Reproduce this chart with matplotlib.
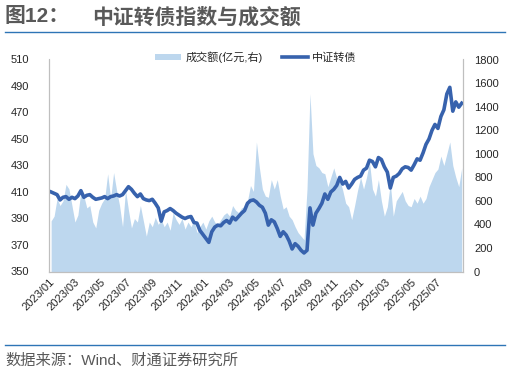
import numpy as np
import pandas as pd
import matplotlib
matplotlib.use('Agg')
import matplotlib.pyplot as plt
from matplotlib.lines import Line2D

plt.rcParams['font.family'] = ['Liberation Sans', 'Noto Sans CJK SC', 'DejaVu Sans']

# weekly samples (Fridays)
dates = pd.date_range('2023-01-06', '2025-08-29', freq='W-FRI')

idx_2023 = [410, 409, 408, 404,
            406, 406.5, 404.5, 406,
            405, 407, 411, 406, 407.5,
            408, 406, 404.5, 405,
            405.5, 406.5, 405, 406.5,
            407, 408, 407, 408, 411,
            414, 412, 409, 406.5,
            408.5, 405, 404, 403.5,
            404.5, 401.5, 398, 388, 395,
            396, 397.5, 396, 394,
            392.5, 391, 390, 391,
            391.5, 387, 386.5, 381, 378]
idx_2024 = [375, 372, 380, 383.5,
            385, 384.5, 387, 388.5,
            386.5, 391, 389, 391.5, 394,
            396, 401.5, 403.5, 404,
            402.5, 400, 398.5, 394, 385,
            389, 387.5, 382.5, 376.5,
            380, 377.5, 373, 367,
            371, 369, 366, 364, 366,
            398, 385, 394, 397.5,
            401.5, 408.5, 404.5, 410,
            412, 415, 421, 416, 418,
            413, 416, 419.5, 421]
idx_2025 = [422, 426.5, 428, 434, 433,
            429, 436, 434.5, 429,
            425, 413, 421, 422,
            424, 427.5, 429, 428.5,
            426.5, 430.5, 435, 434, 439.5,
            446, 450, 456.5, 461,
            458, 467, 472, 484,
            489, 471, 478, 474, 477]

vol_2023 = [430, 470, 620, 560,
            600, 740, 700, 560,
            420, 480, 680, 640, 540,
            560, 420, 370, 520,
            580, 620, 830, 620,
            840, 690, 560, 380, 690,
            520, 370, 450, 420,
            560, 430, 300, 420,
            380, 460, 400, 440, 380,
            420, 350, 500, 440,
            400, 450, 360, 420,
            380, 440, 330, 380, 420]
vol_2024 = [360, 430, 470, 420,
            400, 440, 480, 500,
            470, 560, 520, 500, 540,
            550, 600, 730, 680,
            1100, 880, 700, 640, 630,
            780, 700, 780, 640,
            530, 550, 470, 440,
            380, 330, 300, 270, 700,
            1510, 1000, 900, 880,
            840, 830, 720, 800,
            880, 790, 780, 690, 580,
            550, 440, 560, 690]
vol_2025 = [800, 700, 800, 930, 700,
            640, 780, 600, 470,
            550, 750, 470, 600,
            640, 680, 600, 560,
            550, 620, 580, 640, 580,
            620, 720, 780, 840,
            870, 980, 900, 1000,
            1100, 900, 800, 720, 880]

index_vals = idx_2023 + idx_2024 + idx_2025
volume = vol_2023 + vol_2024 + vol_2025

left_ticks = list(range(350, 511, 20))
right_ticks = list(range(0, 1801, 200))
xtick_dates = pd.date_range('2023-01-01', '2025-07-01', freq='2MS')

fig = plt.figure(figsize=(5.1, 3.74), dpi=100)
ax = fig.add_axes([49/510, 1-271.5/374, (463-49)/510, (271.5-59.5)/374])
ax2 = ax.twinx()

ax2.fill_between(dates, 0, volume, color='#BDD7EE', lw=0, label='成交额(亿元,右)')
ax.plot(dates, index_vals, color='#3762AD', lw=2.6, label='中证转债')
ax.set_zorder(ax2.get_zorder() + 1)
ax.patch.set_visible(False)

ax.set_ylim(350, 510)
ax.set_yticks(left_ticks)
ax2.set_ylim(0, 1800)
ax2.set_yticks(right_ticks)
ax.set_xlim(pd.Timestamp('2023-01-01'), pd.Timestamp('2025-09-01'))
ax.set_xticks(xtick_dates)
ax.set_xticklabels([d.strftime('%Y/%m') for d in xtick_dates], rotation=45,
                   ha='right', rotation_mode='anchor')

for a in (ax, ax2):
    a.spines['top'].set_visible(False)
    for s in ('left', 'right', 'bottom'):
        a.spines[s].set_color('#BFBFBF')
        a.spines[s].set_linewidth(0.8)
ax.tick_params(axis='y', length=0, pad=14, labelsize=8, colors='#262626')
ax.tick_params(axis='x', length=0, pad=4, labelsize=8, colors='#262626')
ax2.tick_params(axis='y', length=0, pad=8, labelsize=8, colors='#262626')

h1, l1 = ax2.get_legend_handles_labels()
h2, l2 = ax.get_legend_handles_labels()
ax.legend(h1 + h2, l1 + l2, loc='center', bbox_to_anchor=(0.5, 1.012), ncol=2,
          frameon=False, fontsize=8, handlelength=2.3, handleheight=0.5,
          columnspacing=1.8, handletextpad=0.4, labelcolor='#262626')

# header / footer
fig.text(5/510, 1-17/374, '图12：', fontsize=15, fontweight='bold', color='#595959',
         va='center', ha='left')
fig.text(92/510, 1-17/374, '中证转债指数与成交额', fontsize=15, fontweight='bold',
         color='#595959', va='center', ha='left')
fig.add_artist(Line2D([5/510, 505/510], [1-32/374, 1-32/374], transform=fig.transFigure,
                      color='#2E75B6', lw=1))
fig.add_artist(Line2D([5/510, 505/510], [1-345/374, 1-345/374], transform=fig.transFigure,
                      color='#2E75B6', lw=1))
fig.text(5/510, 1-361/374, '数据来源：Wind、财通证券研究所', fontsize=11, color='#595959',
         va='center', ha='left')

fig.savefig('out.png', dpi=100)
